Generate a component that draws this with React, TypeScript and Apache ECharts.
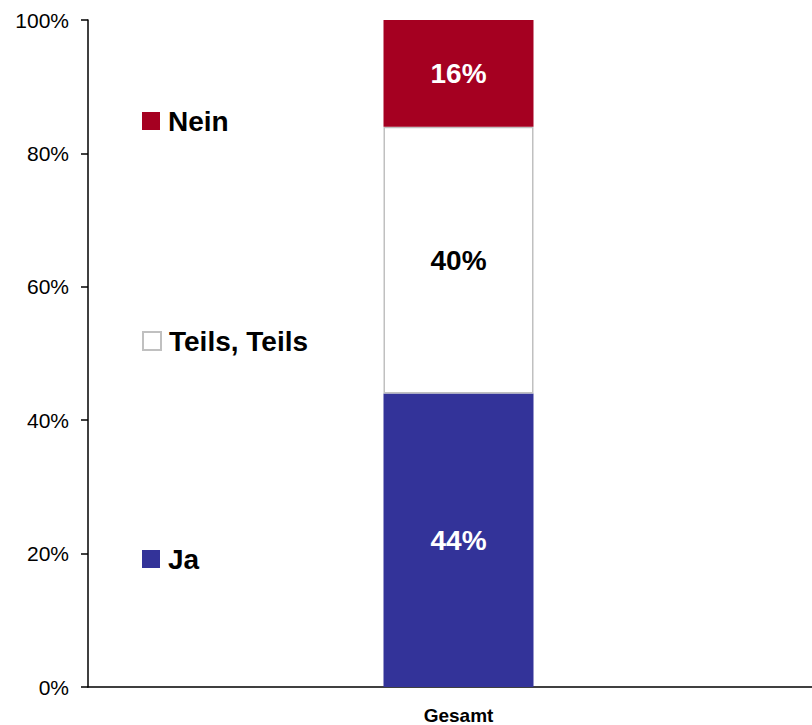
import React, { useEffect, useRef } from "react";
import * as echarts from "echarts";

const categories = ["Gesamt"];
const seriesNames = ["Ja", "Teils, Teils", "Nein"];
const jaValues = [44];
const teilsValues = [40];
const neinValues = [16];
const yTicks = [0, 20, 40, 60, 80, 100];

const FONT = "'Liberation Sans', Arial, Helvetica, sans-serif";

export default function App() {
  const ref = useRef<HTMLDivElement>(null);
  useEffect(() => {
    if (!ref.current) return;
    const chart = echarts.init(ref.current, undefined, { renderer: "svg" });
    const labelStyle = (color: string) => ({
      show: true,
      position: "inside",
      formatter: "{c}%",
      color,
      fontFamily: FONT,
      fontWeight: "bold",
      fontSize: 28,
    });
    const legendBase = {
      left: 142,
      orient: "horizontal",
      padding: 0,
      itemWidth: 18,
      itemHeight: 18,
      icon: "rect",
      selectedMode: false,
      textStyle: {
        fontFamily: FONT,
        fontWeight: "bold",
        fontSize: 28,
        color: "#000",
        padding: [0, 0, 0, 3],
      },
    };
    chart.setOption({
      animation: false,
      textStyle: { fontFamily: FONT },
      legend: [
        { ...legendBase, top: 107, data: [seriesNames[2]] },
        { ...legendBase, top: 327, data: [seriesNames[1]] },
        { ...legendBase, top: 545, data: [seriesNames[0]] },
      ],
      grid: { left: 88, top: 20, bottom: 37, width: 741, containLabel: false },
      xAxis: {
        type: "category",
        data: categories,
        axisLine: { lineStyle: { color: "#000", width: 1.5 } },
        axisTick: { show: false },
        axisLabel: {
          margin: 19,
          color: "#000",
          fontFamily: FONT,
          fontWeight: "bold",
          fontSize: 19,
        },
      },
      yAxis: {
        type: "value",
        min: yTicks[0],
        max: yTicks[yTicks.length - 1],
        interval: 20,
        axisLine: { show: true, lineStyle: { color: "#000", width: 1.5 } },
        axisTick: { show: true, length: 7, lineStyle: { color: "#000", width: 1.5 } },
        splitLine: { show: false },
        axisLabel: {
          margin: 19,
          color: "#000",
          fontFamily: FONT,
          fontSize: 21,
          formatter: "{value}%",
        },
      },
      series: [
        {
          name: seriesNames[0],
          type: "bar",
          stack: "total",
          barWidth: 150,
          data: jaValues,
          itemStyle: { color: "#333399" },
          label: labelStyle("#fff"),
        },
        {
          name: seriesNames[1],
          type: "bar",
          stack: "total",
          barWidth: 150,
          data: teilsValues,
          itemStyle: { color: "#ffffff", borderColor: "#c0c0c0", borderWidth: 1.5 },
          label: labelStyle("#000"),
        },
        {
          name: seriesNames[2],
          type: "bar",
          stack: "total",
          barWidth: 150,
          data: neinValues,
          itemStyle: { color: "#a50021" },
          label: labelStyle("#fff"),
        },
      ],
    });
    return () => chart.dispose();
  }, []);
  return (
    <div
      style={{
        position: "absolute",
        left: 0,
        top: 0,
        width: 812,
        height: 725,
        overflow: "hidden",
      }}
    >
      <div ref={ref} style={{ width: 830, height: 725 }} />
    </div>
  );
}
